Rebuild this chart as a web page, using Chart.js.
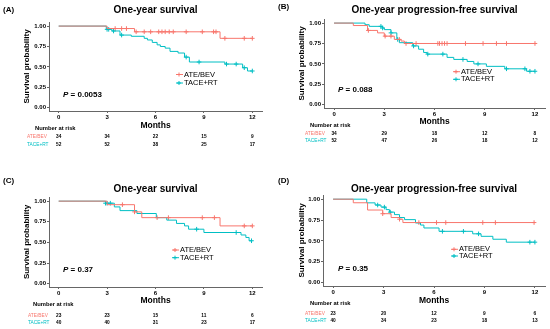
<!DOCTYPE html>
<html>
<head>
<meta charset="utf-8">
<script src="https://cdn.jsdelivr.net/npm/chart.js@4.4.1/dist/chart.umd.min.js"></script>
<style>
  body { margin: 0; background: #fff; }
  #wrap { position: relative; width: 550px; height: 329px; }
  canvas { position: absolute; }
</style>
</head>
<body>
<div id="wrap">
  <canvas id="cA" width="275" height="165" style="left:0;top:0"></canvas>
  <canvas id="cB" width="275" height="165" style="left:275px;top:0"></canvas>
  <canvas id="cC" width="275" height="164" style="left:0;top:165px"></canvas>
  <canvas id="cD" width="275" height="164" style="left:275px;top:165px"></canvas>
</div>
<script>
// data
const monthTicks = [0, 3, 6, 9, 12];
const probTicks = [0, 0.25, 0.5, 0.75, 1];
const groups = ["ATE/BEV", "TACE+RT"];
const panelLabels = ["(A)", "(B)", "(C)", "(D)"];
const panelTitles = ["One-year survival", "One-year progression-free survival", "One-year survival", "One-year progression-free survival"];
const pValues = ["0.0053", "0.088", "0.37", "0.35"];

// (A) one-year survival
const aAteTimes = [0, 3.0, 4.7, 10.0];
const aAteSurv = [1, 0.97, 0.93, 0.85];
const aAteCens = [3.5, 3.9, 4.2, 4.8, 5.3, 5.7, 6.2, 6.4, 6.6, 6.85, 7.1, 7.9, 8.9, 9.6, 9.75, 10.3, 11.5, 12.0];
const aTaceTimes = [0, 2.95, 3.3, 3.8, 4.5, 5.3, 5.5, 5.8, 6.1, 6.3, 6.6, 6.9, 7.4, 7.8, 8.1, 10.3, 11.4, 11.7];
const aTaceSurv = [1, 0.96, 0.94, 0.89, 0.875, 0.85, 0.83, 0.80, 0.77, 0.75, 0.73, 0.69, 0.67, 0.62, 0.56, 0.535, 0.49, 0.45];
const aTaceCens = [3.0, 3.1, 3.4, 3.9, 7.9, 8.7, 10.4, 11.0, 11.5, 12.0];
const aRiskAte = [34, 34, 22, 15, 9];
const aRiskTace = [52, 52, 38, 25, 17];

// (B) one-year progression-free survival
const bAteTimes = [0, 1.15, 2.0, 2.6, 3.0, 3.6, 4.0, 4.2];
const bAteSurv = [1, 0.97, 0.91, 0.88, 0.84, 0.80, 0.78, 0.75];
const bAteCens = [2.05, 3.05, 3.4, 3.9, 4.3, 4.9, 6.2, 6.3, 6.45, 6.6, 6.75, 7.85, 8.9, 9.7, 10.3, 12.0];
const bTaceTimes = [0, 1.85, 2.1, 2.9, 3.0, 3.4, 3.75, 3.9, 4.7, 5.05, 5.35, 5.55, 6.75, 7.15, 7.95, 8.35, 9.1, 10.2, 11.5];
const bTaceSurv = [1, 0.98, 0.96, 0.94, 0.92, 0.88, 0.80, 0.76, 0.72, 0.68, 0.64, 0.62, 0.58, 0.555, 0.53, 0.50, 0.47, 0.44, 0.41];
const bTaceCens = [2.8, 2.9, 3.4, 3.8, 4.75, 5.6, 6.5, 7.7, 8.6, 10.3, 11.4, 11.7, 12.0];
const bRiskAte = [34, 29, 18, 12, 8];
const bRiskTace = [52, 47, 26, 18, 12];

// (C) one-year survival
const cAteTimes = [0, 3.0, 4.7, 5.15, 10.0];
const cAteSurv = [1, 0.957, 0.87, 0.80, 0.70];
const cAteCens = [3.95, 4.7, 6.1, 6.8, 8.9, 9.65, 11.5, 12.0];
const cTaceTimes = [0, 2.9, 3.45, 3.8, 4.85, 6.05, 6.7, 7.3, 7.8, 8.05, 9.0, 11.3, 11.6, 11.8];
const cTaceSurv = [1, 0.975, 0.93, 0.885, 0.85, 0.80, 0.77, 0.73, 0.70, 0.66, 0.62, 0.59, 0.56, 0.52];
const cTaceCens = [2.9, 3.0, 3.2, 8.55, 11.0, 11.95];
const cRiskAte = [23, 23, 15, 11, 6];
const cRiskTace = [40, 40, 31, 23, 17];

// (D) one-year progression-free survival
const dAteTimes = [0, 1.2, 2.05, 2.95, 3.45, 3.95, 4.15];
const dAteSurv = [1, 0.957, 0.87, 0.826, 0.78, 0.76, 0.72];
const dAteCens = [2.95, 3.95, 5.1, 6.15, 6.7, 8.9, 9.65, 11.95];
const dTaceTimes = [0, 2.0, 2.5, 2.85, 3.15, 3.35, 3.65, 3.95, 4.25, 4.9, 5.2, 5.4, 6.3, 8.3, 8.8, 9.5, 10.3];
const dTaceSurv = [1, 0.956, 0.93, 0.905, 0.875, 0.845, 0.815, 0.78, 0.755, 0.715, 0.69, 0.655, 0.615, 0.585, 0.555, 0.52, 0.485];
const dTaceCens = [2.65, 3.05, 3.4, 3.95, 6.5, 7.75, 8.65, 11.7, 12.0];
const dRiskAte = [23, 20, 12, 9, 6];
const dRiskTace = [40, 34, 23, 18, 13];

const colAte = "#F8766D";
const colTace = "#00BFC4";
const axisCol = "#666";

// layout of each panel inside its canvas
const panels = [
  { canvas: "cA", area: { l: 49, r: 262, t: 22, b: 111 }, labelY: 10, titleY: 10, pY: 94.5, legX: 180, legY: [74.5, 83], monthsY: 126, narX: 35, narY: 128.7, rowX: 27, rowY: [137, 144.5],
    ate: [aAteTimes, aAteSurv, aAteCens], tace: [aTaceTimes, aTaceSurv, aTaceCens], risk: [aRiskAte, aRiskTace] },
  { canvas: "cB", area: { l: 49, r: 272, t: 19, b: 108 }, labelY: 6.5, titleY: 10.5, pY: 89.3, legX: 182, legY: [71.7, 79.3], monthsY: 122, narX: 35, narY: 125.3, rowX: 30, rowY: [133.7, 140.3],
    ate: [bAteTimes, bAteSurv, bAteCens], tace: [bTaceTimes, bTaceSurv, bTaceCens], risk: [bRiskAte, bRiskTace] },
  { canvas: "cC", area: { l: 49, r: 262, t: 32, b: 122 }, labelY: 16, titleY: 24, pY: 104.3, legX: 176, legY: [85, 92.7], monthsY: 136, narX: 33, narY: 139.5, rowX: 28, rowY: [150.3, 157.5],
    ate: [cAteTimes, cAteSurv, cAteCens], tace: [cTaceTimes, cTaceSurv, cTaceCens], risk: [cRiskAte, cRiskTace] },
  { canvas: "cD", area: { l: 48, r: 271, t: 30, b: 121 }, labelY: 16, titleY: 24, pY: 103.3, legX: 180, legY: [84.3, 91], monthsY: 136, narX: 35, narY: 138.3, rowX: 30, rowY: [149, 156],
    ate: [dAteTimes, dAteSurv, dAteCens], tace: [dTaceTimes, dTaceSurv, dTaceCens], risk: [dRiskAte, dRiskTace] },
];

function stepPoints(times, surv) {
  let pts = times.map((t, i) => ({ x: t, y: surv[i] }));
  pts.push({ x: 12, y: surv[surv.length - 1] });
  return pts;
}
function survAt(times, surv, t) {
  let s = 1;
  for (let i = 0; i < times.length; i++) if (times[i] <= t) s = surv[i];
  return s;
}
function censorPoints(times, surv, cens) {
  return cens.map((t) => ({ x: t, y: survAt(times, surv, t) }));
}

function drawCross(ctx, x, y, r, col) {
  ctx.strokeStyle = col;
  ctx.lineWidth = 1;
  ctx.beginPath();
  ctx.moveTo(x - r, y); ctx.lineTo(x + r, y);
  ctx.moveTo(x, y - r); ctx.lineTo(x, y + r);
  ctx.stroke();
}

function makeTextPlugin(p, idx) {
  return {
    id: "panelText" + idx,
    afterDraw(chart) {
      const ctx = chart.ctx;
      const ca = chart.chartArea;
      const xs = chart.scales.x;
      const midX = (ca.left + ca.right) / 2;
      ctx.save();
      ctx.fillStyle = "#000";
      ctx.textBaseline = "middle";

      ctx.textAlign = "left";
      ctx.font = "bold 8px 'Liberation Sans', Arial, sans-serif";
      ctx.fillText(panelLabels[idx], 3, p.labelY);

      ctx.textAlign = "center";
      ctx.font = "bold 10px 'Liberation Sans', Arial, sans-serif";
      ctx.fillText(panelTitles[idx], midX, p.titleY);

      // y axis title
      ctx.save();
      ctx.translate(27, (ca.top + ca.bottom) / 2);
      ctx.rotate(-Math.PI / 2);
      ctx.font = "bold 8px 'Liberation Sans', Arial, sans-serif";
      ctx.fillText("Survival probability", 0, 0);
      ctx.restore();

      // x axis title
      ctx.font = "bold 8.5px 'Liberation Sans', Arial, sans-serif";
      ctx.fillText("Months", midX, p.monthsY);

      // p value
      ctx.textAlign = "left";
      ctx.font = "italic bold 8px 'Liberation Sans', Arial, sans-serif";
      ctx.fillText("P", 63, p.pY);
      const w = ctx.measureText("P").width;
      ctx.font = "bold 8px 'Liberation Sans', Arial, sans-serif";
      ctx.fillText(" = " + pValues[idx], 63 + w, p.pY);

      // legend
      const cols = [colAte, colTace];
      ctx.font = "7.5px 'Liberation Sans', Arial, sans-serif";
      for (let g = 0; g < 2; g++) {
        const y = p.legY[g];
        ctx.strokeStyle = cols[g];
        ctx.lineWidth = 1;
        ctx.beginPath();
        ctx.moveTo(p.legX - 4, y); ctx.lineTo(p.legX + 3, y);
        ctx.stroke();
        drawCross(ctx, p.legX - 1, y, 2, cols[g]);
        ctx.fillStyle = "#000";
        ctx.fillText(groups[g], p.legX + 4, y);
      }

      // number at risk
      ctx.font = "bold 5.8px 'Liberation Sans', Arial, sans-serif";
      ctx.fillText("Number at risk", p.narX, p.narY);
      for (let g = 0; g < 2; g++) {
        ctx.textAlign = "left";
        ctx.fillStyle = cols[g];
        ctx.font = "4.8px 'Liberation Sans', Arial, sans-serif";
        ctx.fillText(groups[g], p.rowX, p.rowY[g]);
        ctx.fillStyle = "#000";
        ctx.textAlign = "center";
        ctx.font = "bold 4.8px 'Liberation Sans', Arial, sans-serif";
        p.risk[g].forEach((n, i) => {
          ctx.fillText(String(n), xs.getPixelForValue(monthTicks[i]), p.rowY[g]);
        });
      }
      ctx.restore();
    },
  };
}

panels.forEach((p, idx) => {
  const cv = document.getElementById(p.canvas);
  const W = cv.width, H = cv.height;
  const xAxisH = 11;
  const datasets = [
    { data: stepPoints(p.ate[0], p.ate[1]), borderColor: colAte, borderWidth: 1, stepped: "before", showLine: true, pointRadius: 0 },
    { data: stepPoints(p.tace[0], p.tace[1]), borderColor: colTace, borderWidth: 1, stepped: "before", showLine: true, pointRadius: 0 },
    { data: censorPoints(p.ate[0], p.ate[1], p.ate[2]), borderColor: colAte, borderWidth: 1, pointStyle: "cross", pointRadius: 2.3, showLine: false },
    { data: censorPoints(p.tace[0], p.tace[1], p.tace[2]), borderColor: colTace, borderWidth: 1, pointStyle: "cross", pointRadius: 2.3, showLine: false },
  ];
  new Chart(cv, {
    type: "scatter",
    data: { datasets: datasets },
    options: {
      responsive: false,
      animation: false,
      devicePixelRatio: 1,
      layout: { padding: { left: 0, top: p.area.t, right: W - p.area.r, bottom: H - p.area.b - xAxisH } },
      plugins: { legend: { display: false }, tooltip: { enabled: false } },
      scales: {
        x: {
          type: "linear", min: -0.6, max: 12.6,
          afterBuildTicks: (s) => { s.ticks = monthTicks.map((v) => ({ value: v })); },
          afterFit: (s) => { s.height = xAxisH; },
          grid: { drawOnChartArea: false, drawTicks: true, tickLength: 2, color: axisCol },
          border: { display: true, color: axisCol, width: 1 },
          ticks: { padding: 1, color: "#000", font: { family: "'Liberation Sans', Arial", size: 6, weight: "bold" }, maxRotation: 0 },
        },
        y: {
          type: "linear", min: -0.04, max: 1.05,
          afterBuildTicks: (s) => { s.ticks = probTicks.map((v) => ({ value: v })); },
          afterFit: (s) => { s.width = p.area.l; },
          grid: { drawOnChartArea: false, drawTicks: true, tickLength: 2, color: axisCol },
          border: { display: true, color: axisCol, width: 1 },
          ticks: { padding: 1, color: "#000", font: { family: "'Liberation Sans', Arial", size: 6, weight: "bold" }, callback: (v) => Number(v).toFixed(2) },
        },
      },
    },
    plugins: [makeTextPlugin(p, idx)],
  });
});
</script>
</body>
</html>
